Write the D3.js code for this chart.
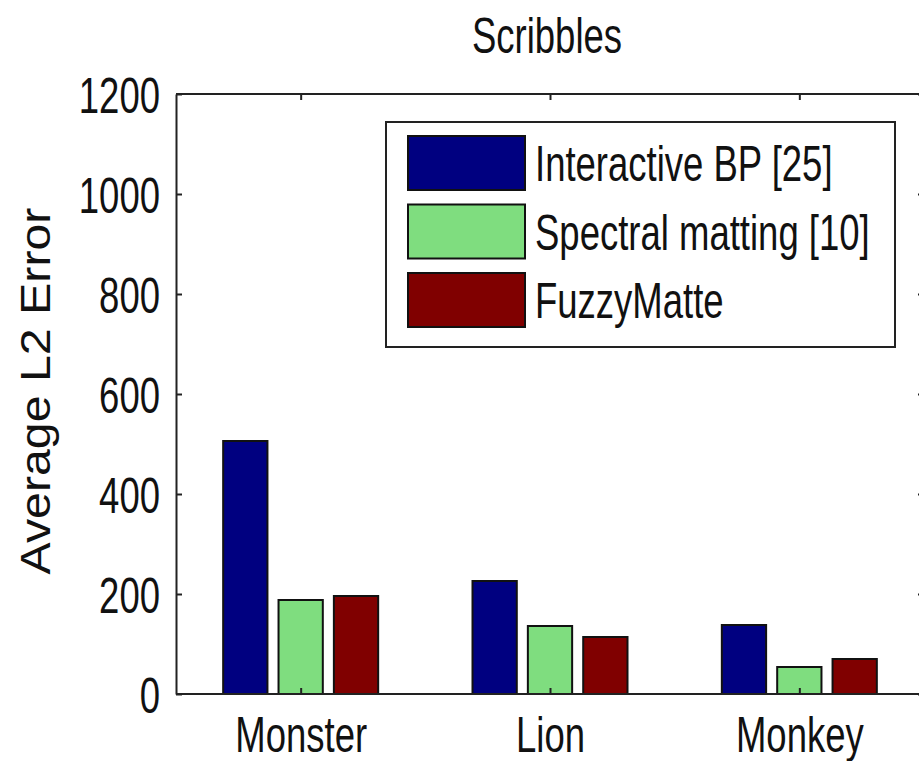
<!DOCTYPE html>
<html>
<head>
<meta charset="utf-8">
<script src="https://cdn.jsdelivr.net/npm/d3@7"></script>
<style>
  html, body { margin: 0; padding: 0; background: #fff; }
  svg text { font-family: "Liberation Sans", Arial, sans-serif; fill: #111; }
</style>
</head>
<body>
<svg id="chart" width="919" height="761"></svg>
<script>
// Average L2 error per test image, scribble input
const categories = ["Monster", "Lion", "Monkey"];
const seriesNames = ["Interactive BP [25]", "Spectral matting [10]", "FuzzyMatte"];
const interactiveBP = [506, 226, 138];
const spectralMatting = [188, 136, 54];
const fuzzyMatte = [196, 114, 70];
const yTicks = [0, 200, 400, 600, 800, 1000, 1200];
const seriesColors = ["#000080", "#7fdd7f", "#800000"];

const seriesValues = [interactiveBP, spectralMatting, fuzzyMatte];

// narrow, tall lettering
const FONT = 50;
const SX = 0.73;

const svg = d3.select("#chart");
const margin = { left: 176, top: 94, right: 924, bottom: 694 };

const x0 = d3.scaleBand().domain(categories).range([margin.left, margin.right]).padding(0);
const groupWidth = 155;
const x1 = d3.scaleBand().domain(d3.range(seriesNames.length))
  .range([x0.bandwidth() / 2 - groupWidth / 2, x0.bandwidth() / 2 + groupWidth / 2])
  .paddingInner(0.2).paddingOuter(0);
const y = d3.scaleLinear().domain([0, 1200]).range([margin.bottom, margin.top]);

// bars
const groups = svg.append("g").selectAll("g")
  .data(categories)
  .join("g")
  .attr("transform", c => `translate(${x0(c)},0)`);

groups.selectAll("rect")
  .data((c, ci) => seriesValues.map((vals, si) => ({ si, v: vals[ci] })))
  .join("rect")
  .attr("x", d => x1(d.si))
  .attr("width", x1.bandwidth())
  .attr("y", d => y(d.v))
  .attr("height", d => y(0) - y(d.v))
  .attr("fill", d => seriesColors[d.si])
  .attr("stroke", "#111")
  .attr("stroke-width", 2);

// axes frame
const axisColor = "#222";
const tickLen = 6;
const labelGap = 16;

const leftAxis = d3.axisLeft(y).tickValues(yTicks).tickFormat(d3.format("d"))
  .tickSizeInner(-tickLen).tickSizeOuter(0);
const gL = svg.append("g").attr("transform", `translate(${margin.left},0)`).call(leftAxis);
gL.select(".domain").attr("stroke", axisColor).attr("stroke-width", 2);
gL.selectAll(".tick line").attr("stroke", axisColor).attr("stroke-width", 2);
gL.selectAll(".tick text")
  .attr("font-size", FONT)
  .attr("x", -labelGap / SX)
  .attr("dy", "0.36em")
  .attr("transform", `scale(${SX},1)`)
  .style("fill", "#111");

const rightAxis = d3.axisRight(y).tickValues(yTicks).tickSizeInner(-tickLen).tickSizeOuter(0).tickFormat("");
const gR = svg.append("g").attr("transform", `translate(${margin.right},0)`).call(rightAxis);
gR.select(".domain").attr("stroke", axisColor).attr("stroke-width", 2);
gR.selectAll(".tick line").attr("stroke", axisColor).attr("stroke-width", 2);

const centerScale = d3.scalePoint().domain(categories)
  .range([x0(categories[0]) + x0.bandwidth() / 2, x0(categories[categories.length - 1]) + x0.bandwidth() / 2]);

const bottomAxis = d3.axisBottom(centerScale).tickSizeInner(-tickLen).tickSizeOuter(0);
const gB = svg.append("g").attr("transform", `translate(0,${margin.bottom})`).call(bottomAxis);
gB.select(".domain").attr("stroke", axisColor).attr("stroke-width", 2).attr("d", `M${margin.left},0H${margin.right}`);
gB.selectAll(".tick line").attr("stroke", axisColor).attr("stroke-width", 2);
gB.selectAll(".tick text")
  .attr("font-size", FONT)
  .attr("y", 58).attr("dy", 0)
  .attr("transform", `scale(${SX},1)`)
  .style("fill", "#111");

const topAxis = d3.axisTop(centerScale).tickSizeInner(-tickLen).tickSizeOuter(0).tickFormat("");
const gT = svg.append("g").attr("transform", `translate(0,${margin.top})`).call(topAxis);
gT.select(".domain").attr("stroke", axisColor).attr("stroke-width", 2).attr("d", `M${margin.left},0H${margin.right}`);
gT.selectAll(".tick line").attr("stroke", axisColor).attr("stroke-width", 2);

// title
svg.append("g").attr("transform", `translate(547,53) scale(${SX},1)`)
  .append("text")
  .attr("text-anchor", "middle")
  .attr("font-size", FONT)
  .text("Scribbles");

// y label
svg.append("g").attr("transform", `translate(50,391) rotate(-90) scale(1.15,1)`)
  .append("text")
  .attr("text-anchor", "middle")
  .attr("font-size", 42)
  .text("Average L2 Error");

// legend
const legend = svg.append("g").attr("transform", "translate(386,122)");
legend.append("rect")
  .attr("width", 509).attr("height", 225)
  .attr("fill", "#fff").attr("stroke", axisColor).attr("stroke-width", 2);
const rowY = d3.scalePoint().domain(d3.range(seriesNames.length)).range([41, 178]);
const rows = legend.selectAll("g.row")
  .data(seriesNames)
  .join("g")
  .attr("class", "row")
  .attr("transform", (d, i) => `translate(0,${rowY(i)})`);
rows.append("rect")
  .attr("x", 22).attr("y", -27)
  .attr("width", 117).attr("height", 54)
  .attr("fill", (d, i) => seriesColors[i])
  .attr("stroke", "#111").attr("stroke-width", 2);
rows.append("g").attr("transform", `translate(149,0) scale(${SX},1)`)
  .append("text")
  .attr("dy", "0.36em")
  .attr("font-size", FONT)
  .text(d => d);
</script>
</body>
</html>
